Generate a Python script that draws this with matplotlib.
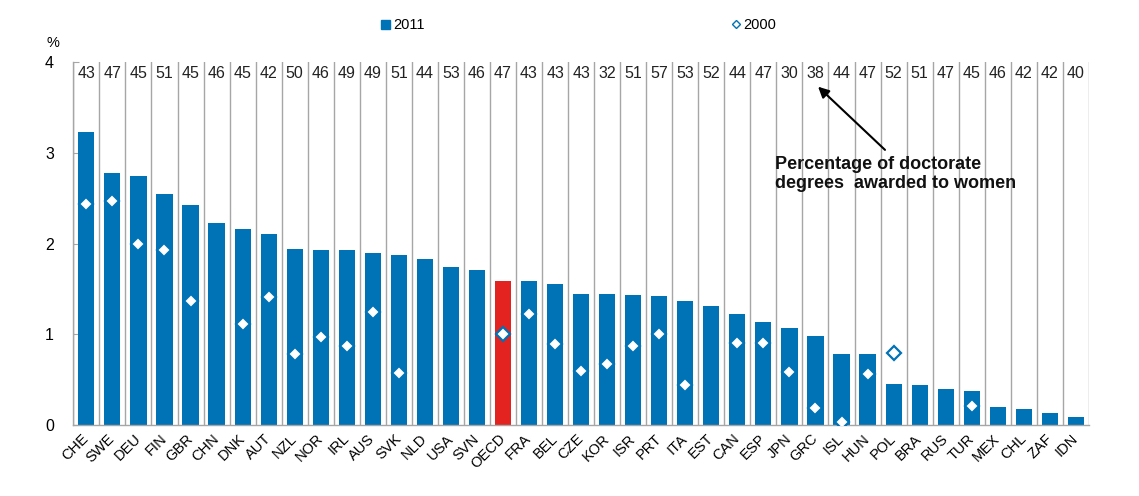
import matplotlib
matplotlib.use("Agg")
import matplotlib.pyplot as plt
from matplotlib.lines import Line2D
from matplotlib.patches import Patch
import numpy as np

plt.rcParams['font.family'] = ['Liberation Sans', 'DejaVu Sans']

countries = ["CHE", "SWE", "DEU", "FIN", "GBR", "CHN", "DNK", "AUT", "NZL", "NOR",
             "IRL", "AUS", "SVK", "NLD", "USA", "SVN", "OECD", "FRA", "BEL", "CZE",
             "KOR", "ISR", "PRT", "ITA", "EST", "CAN", "ESP", "JPN", "GRC", "ISL",
             "HUN", "POL", "BRA", "RUS", "TUR", "MEX", "CHL", "ZAF", "IDN"]
values_2011 = [3.23, 2.78, 2.74, 2.54, 2.42, 2.23, 2.16, 2.11, 1.94, 1.93,
               1.93, 1.90, 1.87, 1.83, 1.74, 1.71, 1.59, 1.59, 1.55, 1.45,
               1.44, 1.43, 1.42, 1.37, 1.31, 1.23, 1.14, 1.07, 0.98, 0.79,
               0.79, 0.46, 0.44, 0.40, 0.38, 0.20, 0.18, 0.14, 0.09]
nan = np.nan
values_2000 = [2.43, 2.47, 1.99, 1.93, 1.37, nan, 1.12, 1.41, 0.79, 0.97,
               0.87, 1.25, 0.58, nan, nan, nan, 1.00, 1.22, 0.90, 0.60,
               0.67, 0.87, 1.01, 0.44, nan, 0.91, 0.91, 0.59, 0.19, 0.04,
               0.56, 0.80, nan, nan, 0.21, nan, nan, nan, nan]
women_pct = [43, 47, 45, 51, 45, 46, 45, 42, 50, 46,
             49, 49, 51, 44, 53, 46, 47, 43, 43, 43,
             32, 51, 57, 53, 52, 44, 47, 30, 38, 44,
             47, 52, 51, 47, 45, 46, 42, 42, 40]

BLUE = '#0072B6'
RED = '#E3231F'
GRID = '#A6A6A6'

fig = plt.figure(figsize=(11.39, 4.96), dpi=100)
ax = fig.add_axes([0.0644, 0.1425, 0.956 - 0.0644, 0.8756 - 0.1425])

x = np.arange(len(countries))
colors = [RED if c == "OECD" else BLUE for c in countries]
ax.bar(x, values_2011, width=0.62, color=colors, zorder=2)
ax.plot(x, values_2000, linestyle='none', marker='D', markersize=7.5,
        markerfacecolor='white', markeredgecolor=BLUE, markeredgewidth=1.6, zorder=3)

# vertical separators
for b in np.arange(-0.5, len(countries) + 0.5, 1.0):
    ax.axvline(b, ymin=0, ymax=1, color=GRID, lw=1.0, zorder=1)

# percentage of women labels
for xi, p in zip(x, women_pct):
    ax.text(xi, 3.875, str(p), ha='center', va='center', fontsize=11.5, color='#222222')

ax.set_xlim(-0.5, len(countries) - 0.5)
ax.set_ylim(0, 4)
ax.set_yticks([0, 1, 2, 3, 4])
ax.set_yticklabels(['0', '1', '2', '3', '4'], fontsize=11.5)
ax.tick_params(axis='y', direction='in', length=4, color=GRID, pad=14)
ax.set_xticks(x)
ax.set_xticklabels(countries, rotation=45, ha='right', va='center',
                   rotation_mode='anchor', fontsize=10.5)
ax.tick_params(axis='x', length=0, pad=8)
for s in ['top', 'right']:
    ax.spines[s].set_visible(False)
for s in ['left', 'bottom']:
    ax.spines[s].set_color(GRID)
    ax.spines[s].set_linewidth(1.0)

fig.text(0.0468, 0.914, '%', ha='center', va='center', fontsize=10.5)

# annotation
ax.annotate('', xy=(28.1, 3.725), xytext=(30.67, 3.03),
            arrowprops=dict(arrowstyle='-|>', color='black', lw=1.5,
                            mutation_scale=16, shrinkA=0, shrinkB=0))
ax.text(26.45, 2.96, 'Percentage of doctorate\ndegrees  awarded to women',
        ha='left', va='top', fontsize=13, fontweight='bold', linespacing=1.12,
        color='#111111')

# legends
h1 = Patch(facecolor=BLUE, edgecolor=BLUE)
leg1 = fig.legend([h1], ['2011'], loc='center left', bbox_to_anchor=(0.3345, 0.949),
                  frameon=False, fontsize=10.5, handlelength=0.6, handleheight=0.6,
                  handletextpad=0.25, borderaxespad=0, borderpad=0)
h2 = Line2D([], [], linestyle='none', marker='D', markersize=4,
            markerfacecolor='white', markeredgecolor=BLUE, markeredgewidth=1.0)
leg2 = fig.legend([h2], ['2000'], loc='center left', bbox_to_anchor=(0.643, 0.949),
                  frameon=False, fontsize=10.5, handlelength=0.5,
                  handletextpad=0.25, borderaxespad=0, borderpad=0)

fig.savefig('out.png', dpi=100)
